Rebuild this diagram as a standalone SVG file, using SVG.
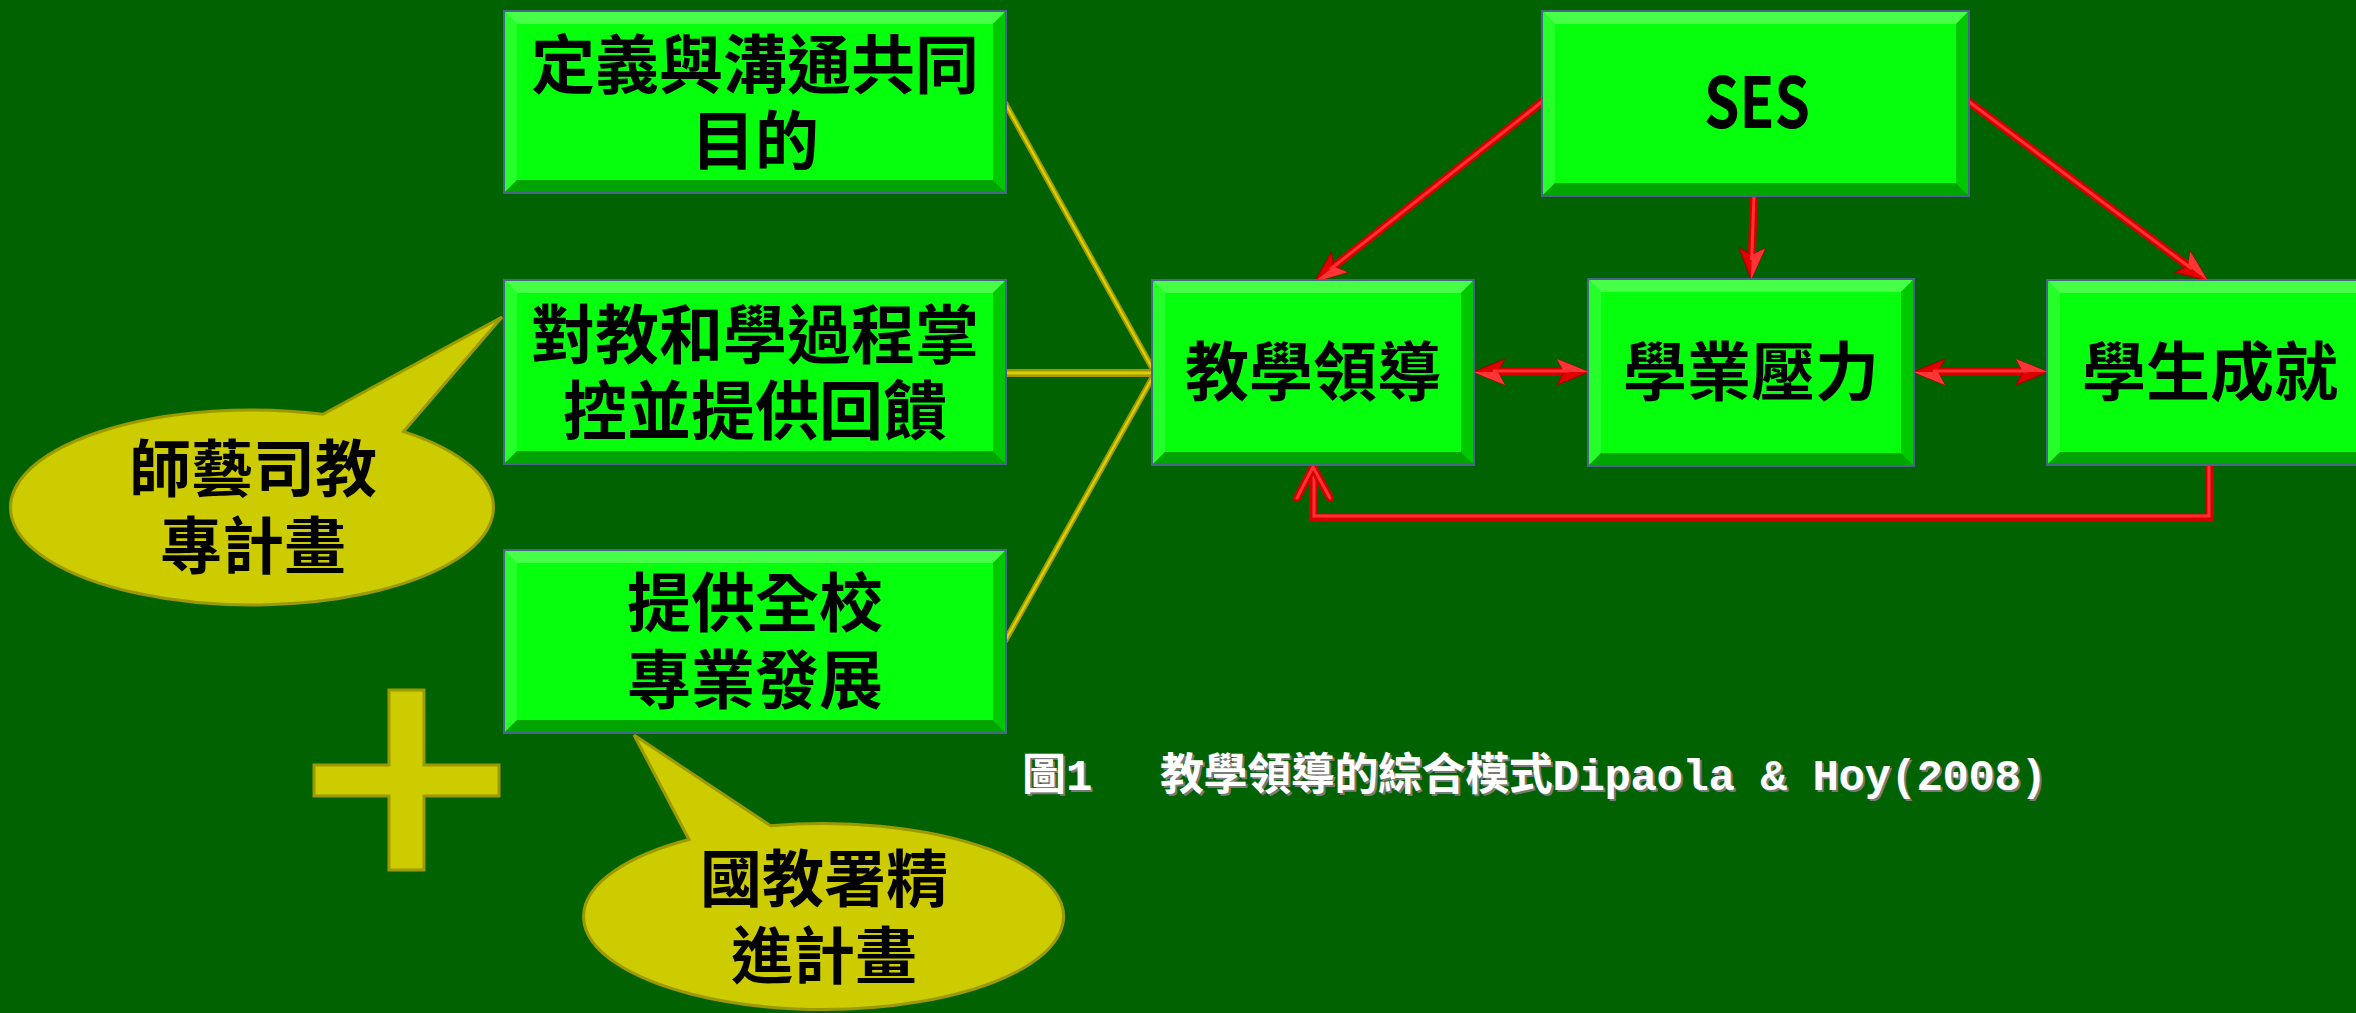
<svg xmlns="http://www.w3.org/2000/svg" width="2356" height="1013" viewBox="0 0 2356 1013">
<style>
.box{fill:#06ff0c;stroke:#48658a;stroke-width:4}
.bt{fill:#46ff46}
.bl{fill:#26ff2a}
.br{fill:#00c800}
.bb{fill:#00a400}
.t{font-family:"Noto Sans CJK TC","Noto Sans CJK SC",sans-serif;font-weight:700;font-size:64px;fill:#000;text-anchor:middle}
.ct{font-family:"Noto Sans CJK TC","Noto Sans CJK SC",sans-serif;font-weight:700;font-size:62px;fill:#000;text-anchor:middle}
.callout{fill:#cccc00;stroke:#9c9a00;stroke-width:3}
.yl{fill:none;stroke:#a39600;stroke-width:6;stroke-linecap:round}
.yh{fill:none;stroke:#d8d000;stroke-width:2.5;stroke-linecap:round}
.rd{fill:none;stroke:#d40000;stroke-width:8}
.rh{fill:none;stroke:#ff3030;stroke-width:3}
.cap{font-family:"Liberation Mono","Noto Sans CJK TC",monospace;font-weight:700;font-size:44px;fill:#fff}
.caps{font-family:"Liberation Mono","Noto Sans CJK TC",monospace;font-weight:700;font-size:44px;fill:#7a7a7a}
</style>
<defs>
<marker id="ah" viewBox="-14 -15 36 30" refX="0" refY="0" markerWidth="36" markerHeight="30" markerUnits="userSpaceOnUse" orient="auto-start-reverse">
<path d="M20,0 L-12,-13 L-5,0 L-12,13 Z" fill="#e00000" stroke="#a00000" stroke-width="1"/>
<path d="M20,0 L-12,-13 L-5,0 Z" fill="#ff3535"/>
</marker>
</defs>
<rect x="0" y="0" width="2356" height="1013" fill="#006200"/>

<g id="connectors">
<g id="yellow-lines">
<line class="yl" x1="1005" y1="103" x2="1155" y2="373"/>
<line class="yh" x1="1005" y1="103" x2="1155" y2="373"/>
<line class="yl" x1="1005" y1="373" x2="1155" y2="373" style="stroke-width:8"/>
<line class="yh" x1="1005" y1="373" x2="1155" y2="373" style="stroke-width:3"/>
<line class="yl" x1="1005" y1="641" x2="1155" y2="373"/>
<line class="yh" x1="1005" y1="641" x2="1155" y2="373"/>
</g>
<g id="red-arrows">
<line class="rd" x1="1543" y1="101" x2="1330" y2="269.5" marker-end="url(#ah)"/>
<line class="rh" x1="1543" y1="101" x2="1330" y2="269.5"/>
<line class="rd" x1="1754" y1="195" x2="1751.7" y2="260" marker-end="url(#ah)"/>
<line class="rh" x1="1754" y1="195" x2="1751.7" y2="260"/>
<line class="rd" x1="1968" y1="101" x2="2192" y2="269" marker-end="url(#ah)"/>
<line class="rh" x1="1968" y1="101" x2="2192" y2="269"/>
<line class="rd" x1="1493" y1="372" x2="1569" y2="372" marker-start="url(#ah)" marker-end="url(#ah)"/>
<line class="rh" x1="1493" y1="371" x2="1569" y2="371"/>
<line class="rd" x1="1933" y1="372" x2="2028" y2="372" marker-start="url(#ah)" marker-end="url(#ah)"/>
<line class="rh" x1="1933" y1="371" x2="2028" y2="371"/>
<polyline class="rd" points="2210,463 2210,518 1313,518 1313,468"/>
<polyline class="rh" points="2209,463 2209,516 1314,516 1314,468"/>
<polyline points="1297,498 1313,467 1330,498" fill="none" stroke="#d00000" stroke-width="8" stroke-linecap="round" stroke-linejoin="round"/>
<polyline points="1297,498 1313,467 1330,498" fill="none" stroke="#ff3030" stroke-width="3" stroke-linecap="round" stroke-linejoin="round"/>
</g>
</g>

<g id="box1">
<rect class="box" x="505" y="12" width="500" height="180"/>
<polygon class="bt" points="505,12 1005,12 993,24 517,24"/>
<polygon class="bl" points="505,12 517,24 517,180 505,192"/>
<polygon class="br" points="1005,12 1005,192 993,180 993,24"/>
<polygon class="bb" points="505,192 517,180 993,180 1005,192"/>
<rect x="517" y="24" width="476" height="156" fill="#06ff0c"/>
<text class="t" x="755" y="88">定義與溝通共同<tspan x="755" dy="76">目的</tspan></text>
</g>

<g id="box2">
<rect class="box" x="505" y="281" width="500" height="182"/>
<polygon class="bt" points="505,281 1005,281 993,293 517,293"/>
<polygon class="bl" points="505,281 517,293 517,451 505,463"/>
<polygon class="br" points="1005,281 1005,463 993,451 993,293"/>
<polygon class="bb" points="505,463 517,451 993,451 1005,463"/>
<rect x="517" y="293" width="476" height="158" fill="#06ff0c"/>
<text class="t" x="755" y="358">對教和學過程掌<tspan x="755" dy="76">控並提供回饋</tspan></text>
</g>

<g id="box3">
<rect class="box" x="505" y="551" width="500" height="181"/>
<polygon class="bt" points="505,551 1005,551 993,563 517,563"/>
<polygon class="bl" points="505,551 517,563 517,720 505,732"/>
<polygon class="br" points="1005,551 1005,732 993,720 993,563"/>
<polygon class="bb" points="505,732 517,720 993,720 1005,732"/>
<rect x="517" y="563" width="476" height="157" fill="#06ff0c"/>
<text class="t" x="755" y="626">提供全校<tspan x="755" dy="77">專業發展</tspan></text>
</g>

<g id="ses">
<rect class="box" x="1543" y="12" width="425" height="183"/>
<polygon class="bt" points="1543,12 1968,12 1956,24 1555,24"/>
<polygon class="bl" points="1543,12 1555,24 1555,183 1543,195"/>
<polygon class="br" points="1968,12 1968,195 1956,183 1956,24"/>
<polygon class="bb" points="1543,195 1555,183 1956,183 1968,195"/>
<rect x="1555" y="24" width="401" height="159" fill="#06ff0c"/>
<text class="t" x="1757" y="128" style="font-size:70px;font-weight:700" textLength="106" lengthAdjust="spacingAndGlyphs">SES</text>
</g>

<g id="leadership">
<rect class="box" x="1153" y="281" width="320" height="183"/>
<polygon class="bt" points="1153,281 1473,281 1461,293 1165,293"/>
<polygon class="bl" points="1153,281 1165,293 1165,452 1153,464"/>
<polygon class="br" points="1473,281 1473,464 1461,452 1461,293"/>
<polygon class="bb" points="1153,464 1165,452 1461,452 1473,464"/>
<rect x="1165" y="293" width="296" height="159" fill="#06ff0c"/>
<text class="t" x="1313" y="395">教學領導</text>
</g>

<g id="pressure">
<rect class="box" x="1589" y="280" width="324" height="185"/>
<polygon class="bt" points="1589,280 1913,280 1901,292 1601,292"/>
<polygon class="bl" points="1589,280 1601,292 1601,453 1589,465"/>
<polygon class="br" points="1913,280 1913,465 1901,453 1901,292"/>
<polygon class="bb" points="1589,465 1601,453 1901,453 1913,465"/>
<rect x="1601" y="292" width="300" height="161" fill="#06ff0c"/>
<text class="t" x="1751" y="395">學業壓力</text>
</g>

<g id="achievement">
<rect class="box" x="2048" y="281" width="324" height="183"/>
<polygon class="bt" points="2048,281 2372,281 2360,293 2060,293"/>
<polygon class="bl" points="2048,281 2060,293 2060,452 2048,464"/>
<polygon class="bb" points="2048,464 2060,452 2360,452 2372,464"/>
<rect x="2060" y="293" width="300" height="159" fill="#06ff0c"/>
<text class="t" x="2210" y="395">學生成就</text>
</g>

<g id="callout1">
<path class="callout" d="M323,414.3 L502,317 L403.6,431.6 A241.5,97.5 0 1 1 323,414.3 Z"/>
<text class="ct" x="253" y="492">師藝司教<tspan x="253" dy="77">專計畫</tspan></text>
</g>

<g id="callout2">
<path class="callout" d="M689,839.5 L634,735 L770.6,825.8 A240,93 0 1 1 689,839.5 Z"/>
<text class="ct" x="824" y="902">國教署精<tspan x="824" dy="77">進計畫</tspan></text>
</g>

<g id="plus">
<polygon class="callout" points="389,690 424,690 424,765 499,765 499,796 424,796 424,870 389,870 389,796 314,796 314,765 389,765"/>
</g>

<g id="caption">
<text class="caps" x="1024" y="792">圖1</text>
<text class="caps" x="1162" y="792" textLength="887" lengthAdjust="spacing">教學領導的綜合模式Dipaola &amp; Hoy(2008)</text>
<text class="cap" x="1022" y="790">圖1</text>
<text class="cap" x="1160" y="790" textLength="887" lengthAdjust="spacing">教學領導的綜合模式Dipaola &amp; Hoy(2008)</text>
</g>
</svg>
